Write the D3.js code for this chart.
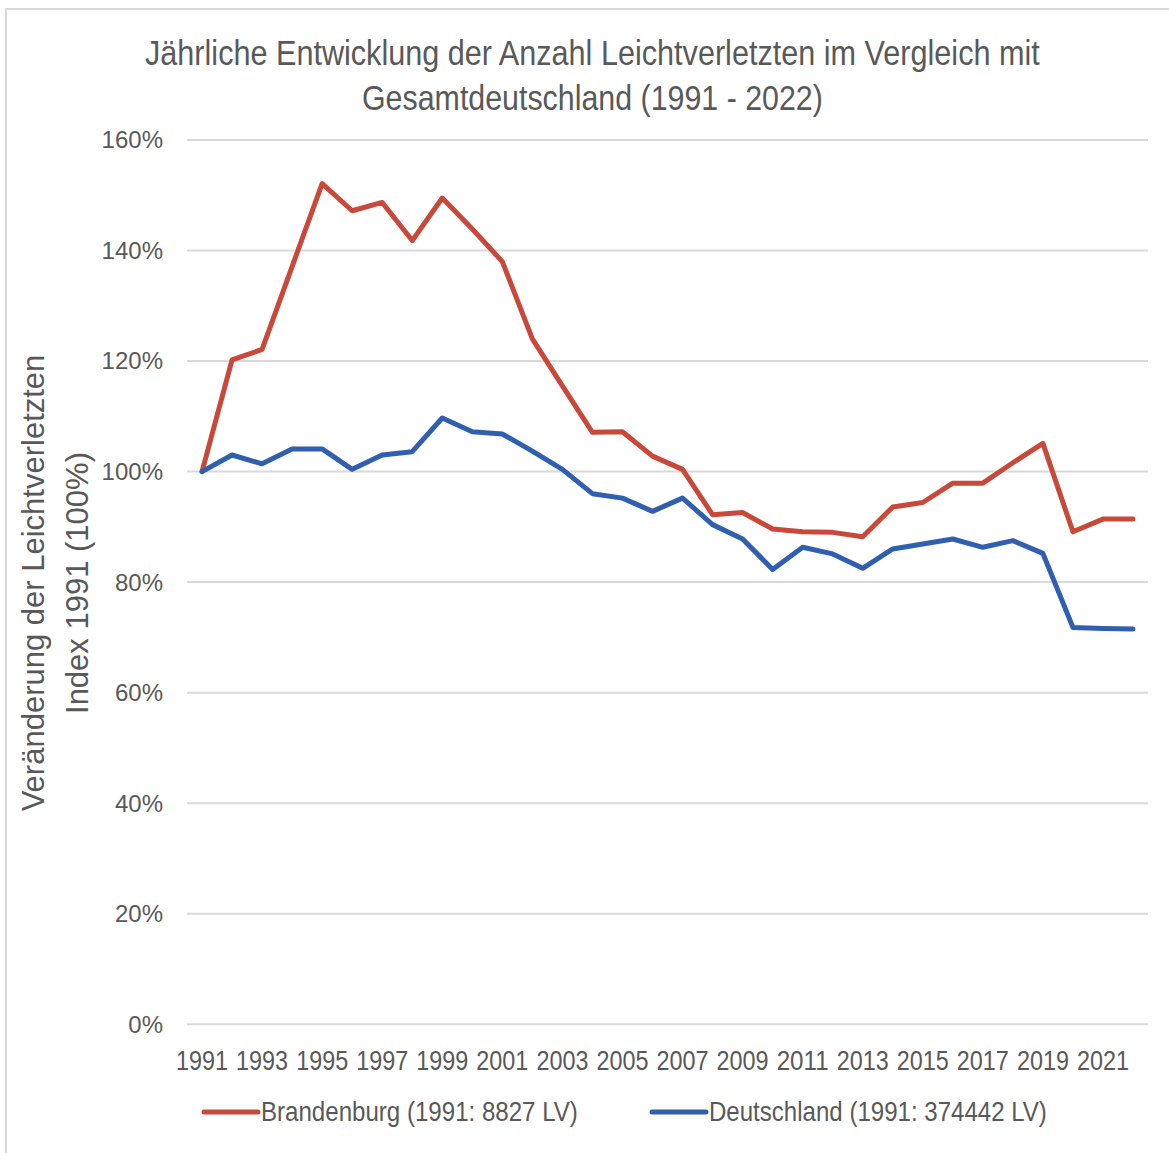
<!DOCTYPE html>
<html>
<head>
<meta charset="utf-8">
<script src="https://cdn.jsdelivr.net/npm/d3@7"></script>
<style>
  body { margin: 0; background: #fff; }
  text { fill: #595959; }
</style>
</head>
<body>
<script>
// data (index, 1991 = 1)
var years = d3.range(1991, 2023);
var brandenburg = [1.000, 1.202, 1.221, 1.371, 1.521, 1.472, 1.487, 1.418, 1.495, 1.439, 1.380,
  1.240, 1.155, 1.071, 1.072, 1.028, 1.004, 0.922, 0.926, 0.896, 0.891, 0.890, 0.882,
  0.936, 0.944, 0.979, 0.979, 1.016, 1.051, 0.891, 0.914, 0.914];
var deutschland = [1.000, 1.030, 1.014, 1.041, 1.041, 1.004, 1.030, 1.036, 1.097, 1.072, 1.068,
  1.037, 1.004, 0.960, 0.952, 0.928, 0.952, 0.904, 0.878, 0.823, 0.863, 0.851, 0.825,
  0.860, 0.869, 0.878, 0.863, 0.875, 0.852, 0.718, 0.716, 0.715];
var yTicks = [0, 0.2, 0.4, 0.6, 0.8, 1.0, 1.2, 1.4, 1.6];
var seriesNames = ["Brandenburg (1991: 8827 LV)", "Deutschland (1991: 374442 LV)"];
var seriesColors = ["#c8483a", "#2f5fae"];

// no narrow font installed: squeeze a text horizontally to a target width
function squeeze(sel, left, target) {
  var w = sel.node().getComputedTextLength();
  var k = target / w;
  sel.attr("x", 0)
    .attr("transform", "translate(" + left + ",0) scale(" + k + ",1)");
}

function main() {
  var width = 1169, height = 1153;
  var font = "'Liberation Sans', Arial, sans-serif";

  var svg = d3.select("body").append("svg")
    .attr("width", width)
    .attr("height", height);

  // chart frame (only left and top edges visible)
  svg.append("path")
    .attr("d", "M6,1153 L6,9 L1169,9")
    .attr("fill", "none")
    .attr("stroke", "#d9d9d9")
    .attr("stroke-width", 2);

  var x = d3.scaleBand().domain(years).range([187, 1148]);
  var y = d3.scaleLinear().domain([0, 1.6]).range([1024.2, 140]);
  var cx = function (d) { return x(d) + x.bandwidth() / 2; };

  // gridlines
  svg.append("g").selectAll("line")
    .data(yTicks)
    .enter().append("line")
    .attr("x1", 187).attr("x2", 1148)
    .attr("y1", function (d) { return y(d); })
    .attr("y2", function (d) { return y(d); })
    .attr("stroke", "#d9d9d9")
    .attr("stroke-width", 2);

  // y tick labels
  svg.append("g").selectAll("text")
    .data(yTicks)
    .enter().append("text")
    .attr("x", 163)
    .attr("y", function (d) { return y(d); })
    .attr("dy", "0.35em")
    .attr("text-anchor", "end")
    .style("font-family", font)
    .style("font-size", "24px")
    .text(function (d) { return Math.round(d * 100) + "%"; });

  // x tick labels (every second year)
  svg.append("g").selectAll("text")
    .data(years.filter(function (d, i) { return i % 2 === 0; }))
    .enter().append("text")
    .attr("y", 1070)
    .style("font-family", font)
    .style("font-size", "27px")
    .text(function (d) { return d; })
    .each(function (d) { squeeze(d3.select(this), cx(d) - 26, 52); });

  // lines
  var line = d3.line()
    .x(function (d, i) { return cx(years[i]); })
    .y(function (d) { return y(d); });

  [brandenburg, deutschland].forEach(function (s, k) {
    svg.append("path")
      .datum(s)
      .attr("d", line)
      .attr("fill", "none")
      .attr("stroke", seriesColors[k])
      .attr("stroke-width", 5)
      .attr("stroke-linejoin", "round")
      .attr("stroke-linecap", "round");
  });

  // title
  var t1 = svg.append("text")
    .attr("y", 65)
    .style("font-family", font)
    .style("font-size", "36px")
    .text("Jährliche Entwicklung der Anzahl Leichtverletzten im Vergleich mit");
  squeeze(t1, 145, 895);
  var t2 = svg.append("text")
    .attr("y", 110)
    .style("font-family", font)
    .style("font-size", "36px")
    .text("Gesamtdeutschland (1991 - 2022)");
  squeeze(t2, 362, 461);

  // y axis title
  var yt = svg.append("text")
    .attr("transform", "translate(0,583) rotate(-90)")
    .attr("text-anchor", "middle")
    .style("font-family", font)
    .style("font-size", "31px");
  yt.append("tspan").attr("x", 0).attr("y", 44).text("Veränderung der Leichtverletzten");
  yt.append("tspan").attr("x", 0).attr("y", 88).text("Index 1991 (100%)");

  // legend
  var legendX = [202, 650];
  var legendLen = [317, 338];
  var lg = svg.append("g").selectAll("g")
    .data(seriesNames)
    .enter().append("g")
    .attr("transform", function (d, i) { return "translate(" + legendX[i] + ",1112)"; });
  lg.append("line")
    .attr("x1", 2).attr("x2", 56)
    .attr("stroke", function (d, i) { return seriesColors[i]; })
    .attr("stroke-width", 5)
    .attr("stroke-linecap", "round");
  lg.append("text")
    .attr("dy", "0.35em")
    .style("font-family", font)
    .style("font-size", "27px")
    .text(function (d) { return d; })
    .each(function (d, i) { squeeze(d3.select(this), 59, legendLen[i]); });
}
document.addEventListener("DOMContentLoaded", main);
</script>
</body>
</html>
